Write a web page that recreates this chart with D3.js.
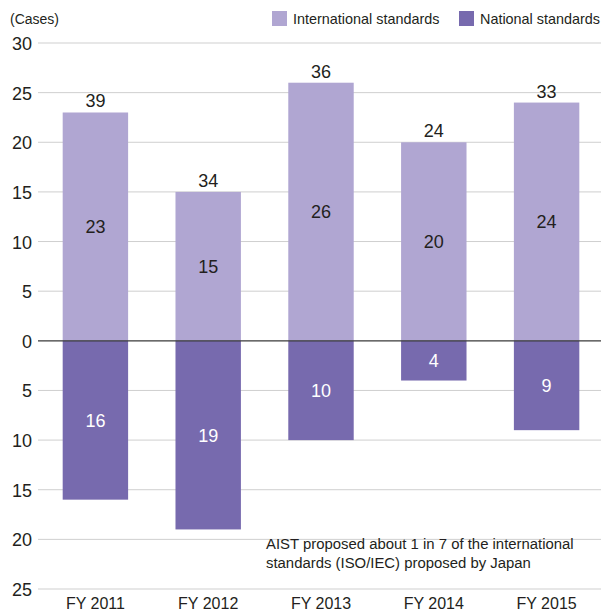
<!DOCTYPE html>
<html><head><meta charset="utf-8">
<script src="https://cdn.jsdelivr.net/npm/d3@7"></script>
<style>html,body{margin:0;padding:0;background:#fff;}svg{display:block;font-family:"Liberation Sans",Arial,sans-serif;}</style>
</head><body>
<svg id="c" width="601" height="613"></svg>
<script>
const categories = ["FY 2011","FY 2012","FY 2013","FY 2014","FY 2015"];
const international = [23,15,26,20,24];
const national = [16,19,10,4,9];
const totals = [39,34,36,24,33];
const yTicks = [30,25,20,15,10,5,0,-5,-10,-15,-20,-25];
const seriesNames = ["International standards","National standards"];
const colors = ["#b0a6d2","#776aae"];
const textColor = "#231f20";

const svg = d3.select("#c");
const y = d3.scaleLinear().domain([-25,30]).range([589,43]);
const x = d3.scaleBand().domain(categories).range([39,603]).paddingInner(0.42).paddingOuter(0.21);

// grid
svg.append("g").selectAll("line").data(yTicks.filter(d=>d!==0)).join("line")
  .attr("x1",38).attr("x2",601).attr("y1",d=>y(d)).attr("y2",d=>y(d))
  .attr("stroke","#cfcfcf").attr("stroke-width",1);

// tick labels
svg.append("g").selectAll("text").data(yTicks).join("text")
  .attr("x",32).attr("y",d=>y(d)+7).attr("text-anchor","end")
  .attr("font-size",18).attr("fill",textColor).text(d=>Math.abs(d));

// bars
svg.append("g").selectAll("rect").data(categories).join("rect")
  .attr("x",d=>x(d)).attr("width",x.bandwidth())
  .attr("y",(d,i)=>y(international[i])).attr("height",(d,i)=>y(0)-y(international[i]))
  .attr("fill",colors[0]);
svg.append("g").selectAll("rect").data(categories).join("rect")
  .attr("x",d=>x(d)).attr("width",x.bandwidth())
  .attr("y",y(0)).attr("height",(d,i)=>y(-national[i])-y(0))
  .attr("fill",colors[1]);

// zero line
svg.append("line").attr("x1",38).attr("x2",601).attr("y1",y(0)).attr("y2",y(0))
  .attr("stroke","#3a3a3a").attr("stroke-width",1.2);

// labels
const cx = d=>x(d)+x.bandwidth()/2;
svg.append("g").selectAll("text").data(categories).join("text")
  .attr("x",cx).attr("y",(d,i)=>y(international[i])-5).attr("text-anchor","middle")
  .attr("font-size",18).attr("fill",textColor).text((d,i)=>totals[i]);
svg.append("g").selectAll("text").data(categories).join("text")
  .attr("x",cx).attr("y",(d,i)=>y(international[i]/2)+6.5).attr("text-anchor","middle")
  .attr("font-size",18).attr("fill",textColor).text((d,i)=>international[i]);
svg.append("g").selectAll("text").data(categories).join("text")
  .attr("x",cx).attr("y",(d,i)=>y(-national[i]/2)+6.5).attr("text-anchor","middle")
  .attr("font-size",18).attr("fill","#ffffff").text((d,i)=>national[i]);

// x labels
svg.append("g").selectAll("text").data(categories).join("text")
  .attr("x",cx).attr("y",609).attr("text-anchor","middle")
  .attr("font-size",16).attr("fill",textColor).text(d=>d);

// unit
svg.append("text").attr("x",10).attr("y",24).attr("font-size",14).attr("fill",textColor).text("(Cases)");

// legend
const lx = [272,459];
seriesNames.forEach((n,i)=>{
  svg.append("rect").attr("x",lx[i]).attr("y",11).attr("width",15).attr("height",15).attr("fill",colors[i]);
  svg.append("text").attr("x",lx[i]+21).attr("y",24).attr("font-size",14.4).attr("fill",textColor).text(n);
});

// annotation
const note = ["AIST proposed about 1 in 7 of the international","standards (ISO/IEC) proposed by Japan"];
svg.append("g").selectAll("text").data(note).join("text")
  .attr("x",266).attr("y",(d,i)=>549+i*18.5).attr("font-size",14.9).attr("fill",textColor).text(d=>d);
</script>
</body></html>
